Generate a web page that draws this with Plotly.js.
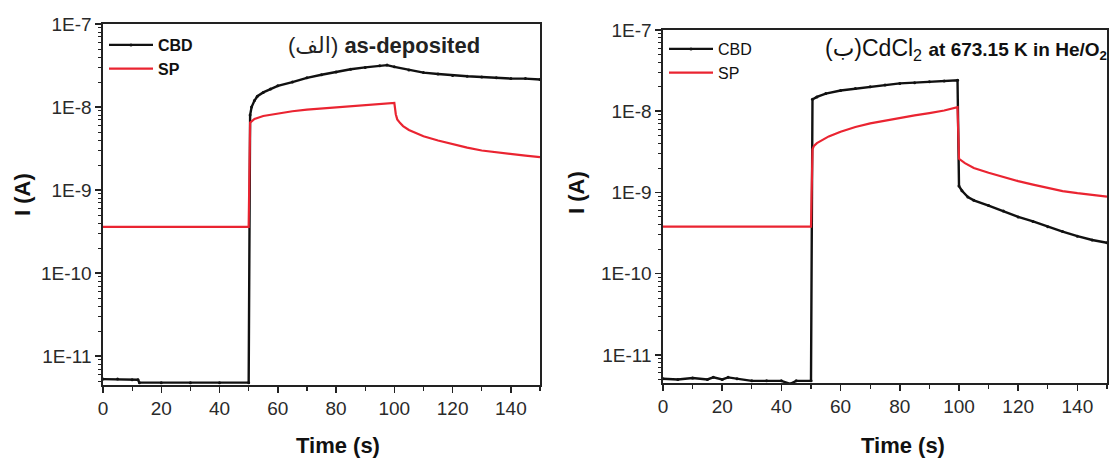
<!DOCTYPE html>
<html>
<head>
<meta charset="utf-8">
<script src="https://cdn.plot.ly/plotly-3.0.1.min.js"></script>
<style>html,body{margin:0;padding:0;background:#fff;}#chart{width:1111px;height:461px;}</style>
</head>
<body>
<div id="chart"></div>
<script>
// ---- Panel (الف): as-deposited ----
const tCbdA = [0, 5, 10, 12, 12.5, 20, 30, 40, 50, 50.5, 51, 52, 53, 55, 57.5, 60, 65, 70, 75, 80, 85, 90, 95, 97.5, 100, 105, 110, 115, 120, 125, 130, 135, 140, 145, 150];
const iCbdA = [5.3e-12, 5.3e-12, 5.2e-12, 5.2e-12, 4.8e-12, 4.8e-12, 4.8e-12, 4.8e-12, 4.8e-12, 8.0e-9, 1.0e-8, 1.2e-8, 1.35e-8, 1.5e-8, 1.65e-8, 1.8e-8, 2.0e-8, 2.25e-8, 2.45e-8, 2.65e-8, 2.85e-8, 3.0e-8, 3.15e-8, 3.2e-8, 3.05e-8, 2.8e-8, 2.6e-8, 2.5e-8, 2.4e-8, 2.35e-8, 2.3e-8, 2.25e-8, 2.2e-8, 2.2e-8, 2.15e-8];
const tSpA = [0, 10, 20, 30, 40, 50, 50.5, 52, 55, 60, 65, 70, 75, 80, 85, 90, 95, 100, 100.5, 101, 102, 103, 105, 107, 110, 115, 120, 125, 130, 135, 140, 145, 150];
const iSpA = [3.6e-10, 3.6e-10, 3.6e-10, 3.6e-10, 3.6e-10, 3.6e-10, 6.5e-9, 7.2e-9, 7.8e-9, 8.4e-9, 8.9e-9, 9.3e-9, 9.6e-9, 9.9e-9, 1.02e-8, 1.05e-8, 1.08e-8, 1.12e-8, 8.2e-9, 7.1e-9, 6.4e-9, 5.9e-9, 5.3e-9, 4.9e-9, 4.45e-9, 3.95e-9, 3.55e-9, 3.25e-9, 3.0e-9, 2.85e-9, 2.7e-9, 2.6e-9, 2.5e-9];

// ---- Panel (ب): CdCl2 at 673.15 K in He/O2 ----
const tCbdB = [0, 5, 10, 15, 17, 20, 22, 25, 30, 35, 40, 43, 45, 50, 50.5, 52, 55, 60, 65, 70, 75, 80, 85, 90, 95, 99.5, 100, 101, 103, 105, 110, 115, 120, 125, 130, 135, 140, 145, 150];
const iCbdB = [5.1e-12, 5.0e-12, 5.2e-12, 5.0e-12, 5.3e-12, 5.0e-12, 5.3e-12, 5.1e-12, 4.8e-12, 4.8e-12, 4.8e-12, 4.4e-12, 4.8e-12, 4.8e-12, 1.4e-8, 1.5e-8, 1.65e-8, 1.8e-8, 1.9e-8, 2.0e-8, 2.1e-8, 2.2e-8, 2.25e-8, 2.3e-8, 2.35e-8, 2.4e-8, 1.2e-9, 1.05e-9, 8.8e-10, 8.0e-10, 6.9e-10, 5.9e-10, 5.0e-10, 4.4e-10, 3.8e-10, 3.3e-10, 2.9e-10, 2.6e-10, 2.4e-10];
const tSpB = [0, 10, 20, 30, 40, 50, 50.5, 51, 52, 54, 56, 60, 65, 70, 75, 80, 85, 90, 95, 99.5, 100, 102, 105, 110, 115, 120, 125, 130, 135, 140, 145, 150];
const iSpB = [3.8e-10, 3.8e-10, 3.8e-10, 3.8e-10, 3.8e-10, 3.8e-10, 3.4e-9, 3.75e-9, 4.05e-9, 4.5e-9, 4.9e-9, 5.6e-9, 6.4e-9, 7.1e-9, 7.7e-9, 8.3e-9, 8.9e-9, 9.5e-9, 1.02e-8, 1.12e-8, 2.6e-9, 2.3e-9, 2.0e-9, 1.75e-9, 1.55e-9, 1.38e-9, 1.25e-9, 1.13e-9, 1.04e-9, 9.8e-10, 9.3e-10, 8.9e-10];

const seriesNames = ['CBD', 'SP'];
const yTickVals = [1e-11, 1e-10, 1e-9, 1e-8, 1e-7];
const yTickText = ['1E-11', '1E-10', '1E-9', '1E-8', '1E-7'];
const xTickVals = [0, 20, 40, 60, 80, 100, 120, 140];
const xMinorVals = [10, 30, 50, 70, 90, 110, 130, 150];
const yMinorVals = [];
[-12, -11, -10, -9, -8].forEach(e => { for (let m = 2; m <= 9; m++) yMinorVals.push(m * Math.pow(10, e)); });

const BLACK = '#111111';
const RED = '#ea2431';
const W = 1111, H = 461;
const px = v => v / W;
const py = v => 1 - v / H;

const traces = [
  {x: tCbdA, y: iCbdA, name: seriesNames[0], xaxis: 'x', yaxis: 'y', mode: 'lines+markers',
   line: {color: BLACK, width: 2.4}, marker: {color: BLACK, size: 3}, legend: 'legend'},
  {x: tSpA, y: iSpA, name: seriesNames[1], xaxis: 'x', yaxis: 'y', mode: 'lines',
   line: {color: RED, width: 2.2}, legend: 'legend'},
  {x: tCbdB, y: iCbdB, name: seriesNames[0], xaxis: 'x2', yaxis: 'y2', mode: 'lines+markers',
   line: {color: BLACK, width: 2.4}, marker: {color: BLACK, size: 3}, legend: 'legend2'},
  {x: tSpB, y: iSpB, name: seriesNames[1], xaxis: 'x2', yaxis: 'y2', mode: 'lines',
   line: {color: RED, width: 2.2}, legend: 'legend2'}
];

const tickFont = {family: 'Liberation Sans, Arial, sans-serif', size: 19, color: '#2a2a2a'};
function xAx(domain, anchor) {
  return {domain: domain, anchor: anchor, range: [0, 150], tickmode: 'array', tickvals: xTickVals,
    ticks: 'outside', ticklen: 6, tickwidth: 1.5, tickcolor: '#222',
    minor: {tickmode: 'array', tickvals: xMinorVals, ticks: 'outside', ticklen: 4, tickwidth: 1.2, tickcolor: '#222', showgrid: false},
    showline: true, mirror: true, linecolor: '#222', linewidth: 1.6, showgrid: false, zeroline: false,
    tickfont: tickFont, fixedrange: true};
}
function yAx(domain, anchor, lo) {
  return {domain: domain, anchor: anchor, type: 'log', range: [lo, -7], tickmode: 'array',
    tickvals: yTickVals, ticktext: yTickText,
    ticks: 'outside', ticklen: 6, tickwidth: 1.5, tickcolor: '#222',
    minor: {tickmode: 'array', tickvals: yMinorVals, ticks: 'outside', ticklen: 3, tickwidth: 1, tickcolor: '#222', showgrid: false},
    showline: true, mirror: true, linecolor: '#222', linewidth: 1.6, showgrid: false, zeroline: false,
    tickfont: tickFont, fixedrange: true};
}

const boldTitle = {family: 'Liberation Sans, Arial, sans-serif', size: 22, color: '#111'};

const layout = {
  width: W, height: H,
  margin: {l: 0, r: 0, t: 0, b: 0},
  paper_bgcolor: '#fff', plot_bgcolor: '#fff',
  showlegend: true,
  xaxis: xAx([px(103), px(540)], 'y'),
  yaxis: yAx([py(385), py(24)], 'x', -11.347),
  xaxis2: xAx([px(663), px(1107)], 'y2'),
  yaxis2: yAx([py(383), py(30)], 'x2', -11.345),
  legend: {x: px(104), y: py(28), xanchor: 'left', yanchor: 'top', bgcolor: 'rgba(0,0,0,0)',
    font: {family: 'Liberation Sans, Arial, sans-serif', size: 16, color: '#111', weight: 'bold'},
    tracegroupgap: 0, itemwidth: 44},
  legend2: {x: px(664), y: py(32), xanchor: 'left', yanchor: 'top', bgcolor: 'rgba(0,0,0,0)',
    font: {family: 'Liberation Sans, Arial, sans-serif', size: 16, color: '#111'},
    tracegroupgap: 0, itemwidth: 44},
  annotations: [
    {xref: 'paper', yref: 'paper', x: px(384), y: py(45), xanchor: 'center', yanchor: 'middle', showarrow: false,
     text: '(الف) <b>as-deposited</b>', font: {family: 'Liberation Sans, DejaVu Sans, sans-serif', size: 22, color: '#222'}},
    {xref: 'paper', yref: 'paper', x: px(1109), y: py(50), xanchor: 'right', yanchor: 'middle', showarrow: false,
     text: '(ب)CdCl<sub>2</sub> <b><span style="font-size:19px">at 673.15 K in He/O<sub>2</sub></span></b>',
     font: {family: 'Liberation Sans, DejaVu Sans, sans-serif', size: 23, color: '#111'}},
    {xref: 'paper', yref: 'paper', x: px(22), y: py(195), textangle: -90, showarrow: false,
     xanchor: 'center', yanchor: 'middle', text: '<b>I (A)</b>', font: boldTitle},
    {xref: 'paper', yref: 'paper', x: px(576), y: py(193), textangle: -90, showarrow: false,
     xanchor: 'center', yanchor: 'middle', text: '<b>I (A)</b>', font: boldTitle},
    {xref: 'paper', yref: 'paper', x: px(338), y: py(445), showarrow: false,
     xanchor: 'center', yanchor: 'middle', text: '<b>Time (s)</b>', font: boldTitle},
    {xref: 'paper', yref: 'paper', x: px(903), y: py(445), showarrow: false,
     xanchor: 'center', yanchor: 'middle', text: '<b>Time (s)</b>', font: boldTitle}
  ]
};

Plotly.newPlot('chart', traces, layout, {displayModeBar: false, staticPlot: true});
</script>
</body>
</html>
